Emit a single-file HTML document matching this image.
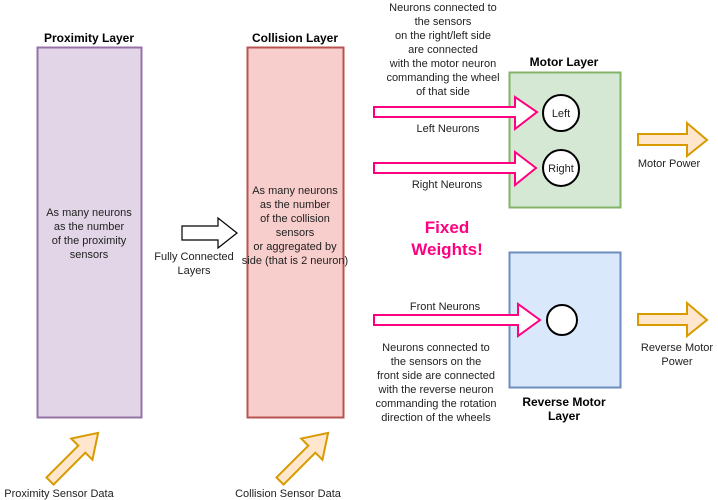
<!DOCTYPE html>
<html><head><meta charset="utf-8"><style>
html,body{margin:0;padding:0;background:#fff;}
svg{display:block;}
text{font-family:"Liberation Sans",Arial,sans-serif;font-size:11px;fill:#222;}
.b{font-weight:bold;font-size:12px;fill:#000;}
</style></head><body>
<svg width="718" height="500" viewBox="0 0 718 500" xmlns="http://www.w3.org/2000/svg">
<rect x="37.5" y="47.5" width="104" height="370" fill="#e1d5e7" stroke="#9673a6" stroke-width="2"/>
<rect x="247.5" y="47.5" width="96" height="370" fill="#f8cecc" stroke="#b85450" stroke-width="2"/>
<rect x="509.5" y="72.5" width="111" height="135" fill="#d5e8d4" stroke="#82b366" stroke-width="2"/>
<rect x="509.5" y="252.5" width="111" height="135" fill="#dae8fc" stroke="#6c8ebf" stroke-width="2"/>
<text class="b" x="89" y="42" text-anchor="middle">Proximity Layer</text>
<text class="b" x="295" y="42" text-anchor="middle">Collision Layer</text>
<text class="b" x="564" y="66" text-anchor="middle">Motor Layer</text>
<text class="b" x="564" y="406" text-anchor="middle">Reverse Motor</text>
<text class="b" x="564" y="420" text-anchor="middle">Layer</text>
<g text-anchor="middle">
<text x="89" y="216">As many neurons</text><text x="89" y="230">as the number</text><text x="89" y="244">of the proximity</text><text x="89" y="258">sensors</text>
<text x="295" y="194">As many neurons</text><text x="295" y="208">as the number</text><text x="295" y="222">of the collision</text><text x="295" y="236">sensors</text><text x="295" y="250">or aggregated by</text><text x="295" y="264">side (that is 2 neuron)</text>
<text x="194" y="260">Fully Connected</text><text x="194" y="274">Layers</text>
<text x="443" y="11">Neurons connected to</text><text x="443" y="25">the sensors</text><text x="443" y="39">on the right/left side</text><text x="443" y="53">are connected</text><text x="443" y="67">with the motor neuron</text><text x="443" y="81">commanding the wheel</text><text x="443" y="95">of that side</text>
<text x="448" y="132">Left Neurons</text><text x="447" y="188">Right Neurons</text><text x="445" y="310">Front Neurons</text>
<text x="436" y="351">Neurons connected to</text><text x="436" y="365">the sensors on the</text><text x="436" y="379">front side are connected</text><text x="436" y="393">with the reverse neuron</text><text x="436" y="407">commanding the rotation</text><text x="436" y="421">direction of the wheels</text>
<text x="669" y="167">Motor Power</text>
<text x="677" y="351">Reverse Motor</text><text x="677" y="365">Power</text>
<text x="59" y="497">Proximity Sensor Data</text>
<text x="288" y="497">Collision Sensor Data</text>
<text x="447" y="233" style="font-size:17px;font-weight:bold;fill:#ff0080">Fixed</text>
<text x="447" y="255" style="font-size:17px;font-weight:bold;fill:#ff0080">Weights!</text>
</g>
<circle cx="561" cy="113" r="18" fill="#fff" stroke="#000" stroke-width="2"/>
<circle cx="561" cy="168" r="18" fill="#fff" stroke="#000" stroke-width="2"/>
<circle cx="562" cy="320" r="15" fill="#fff" stroke="#000" stroke-width="2"/>
<g text-anchor="middle"><text x="561" y="117">Left</text><text x="561" y="172">Right</text></g>
<g fill="#fff" stroke="#ff0080" stroke-width="2">
<polygon points="374,107 515,107 515,97 537,112 515,129 515,117 374,117"/>
<polygon points="374,163 515,163 515,152 536,168 515,185 515,173 374,173"/>
<polygon points="374,315 518,315 518,304 540,320 518,336 518,325 374,325"/>
</g>
<polygon points="182,226 218,226 218,218 237,233 218,248 218,240 182,240" fill="#fff" stroke="#000" stroke-width="1.2"/>
<g fill="#ffe6cc" stroke="#d79b00" stroke-width="2">
<polygon points="638,134 687,134 687,123 707,140 687,156 687,145 638,145"/>
<polygon points="638,314 687,314 687,303 707,320 687,336 687,325 638,325"/>
<polygon points="0,-5 45,-5 45,-15 68,0 45,15 45,5 0,5" transform="translate(50,481) rotate(-45)"/>
<polygon points="0,-5 45,-5 45,-15 68,0 45,15 45,5 0,5" transform="translate(280,481) rotate(-45)"/>
</g>
</svg>
</body></html>
